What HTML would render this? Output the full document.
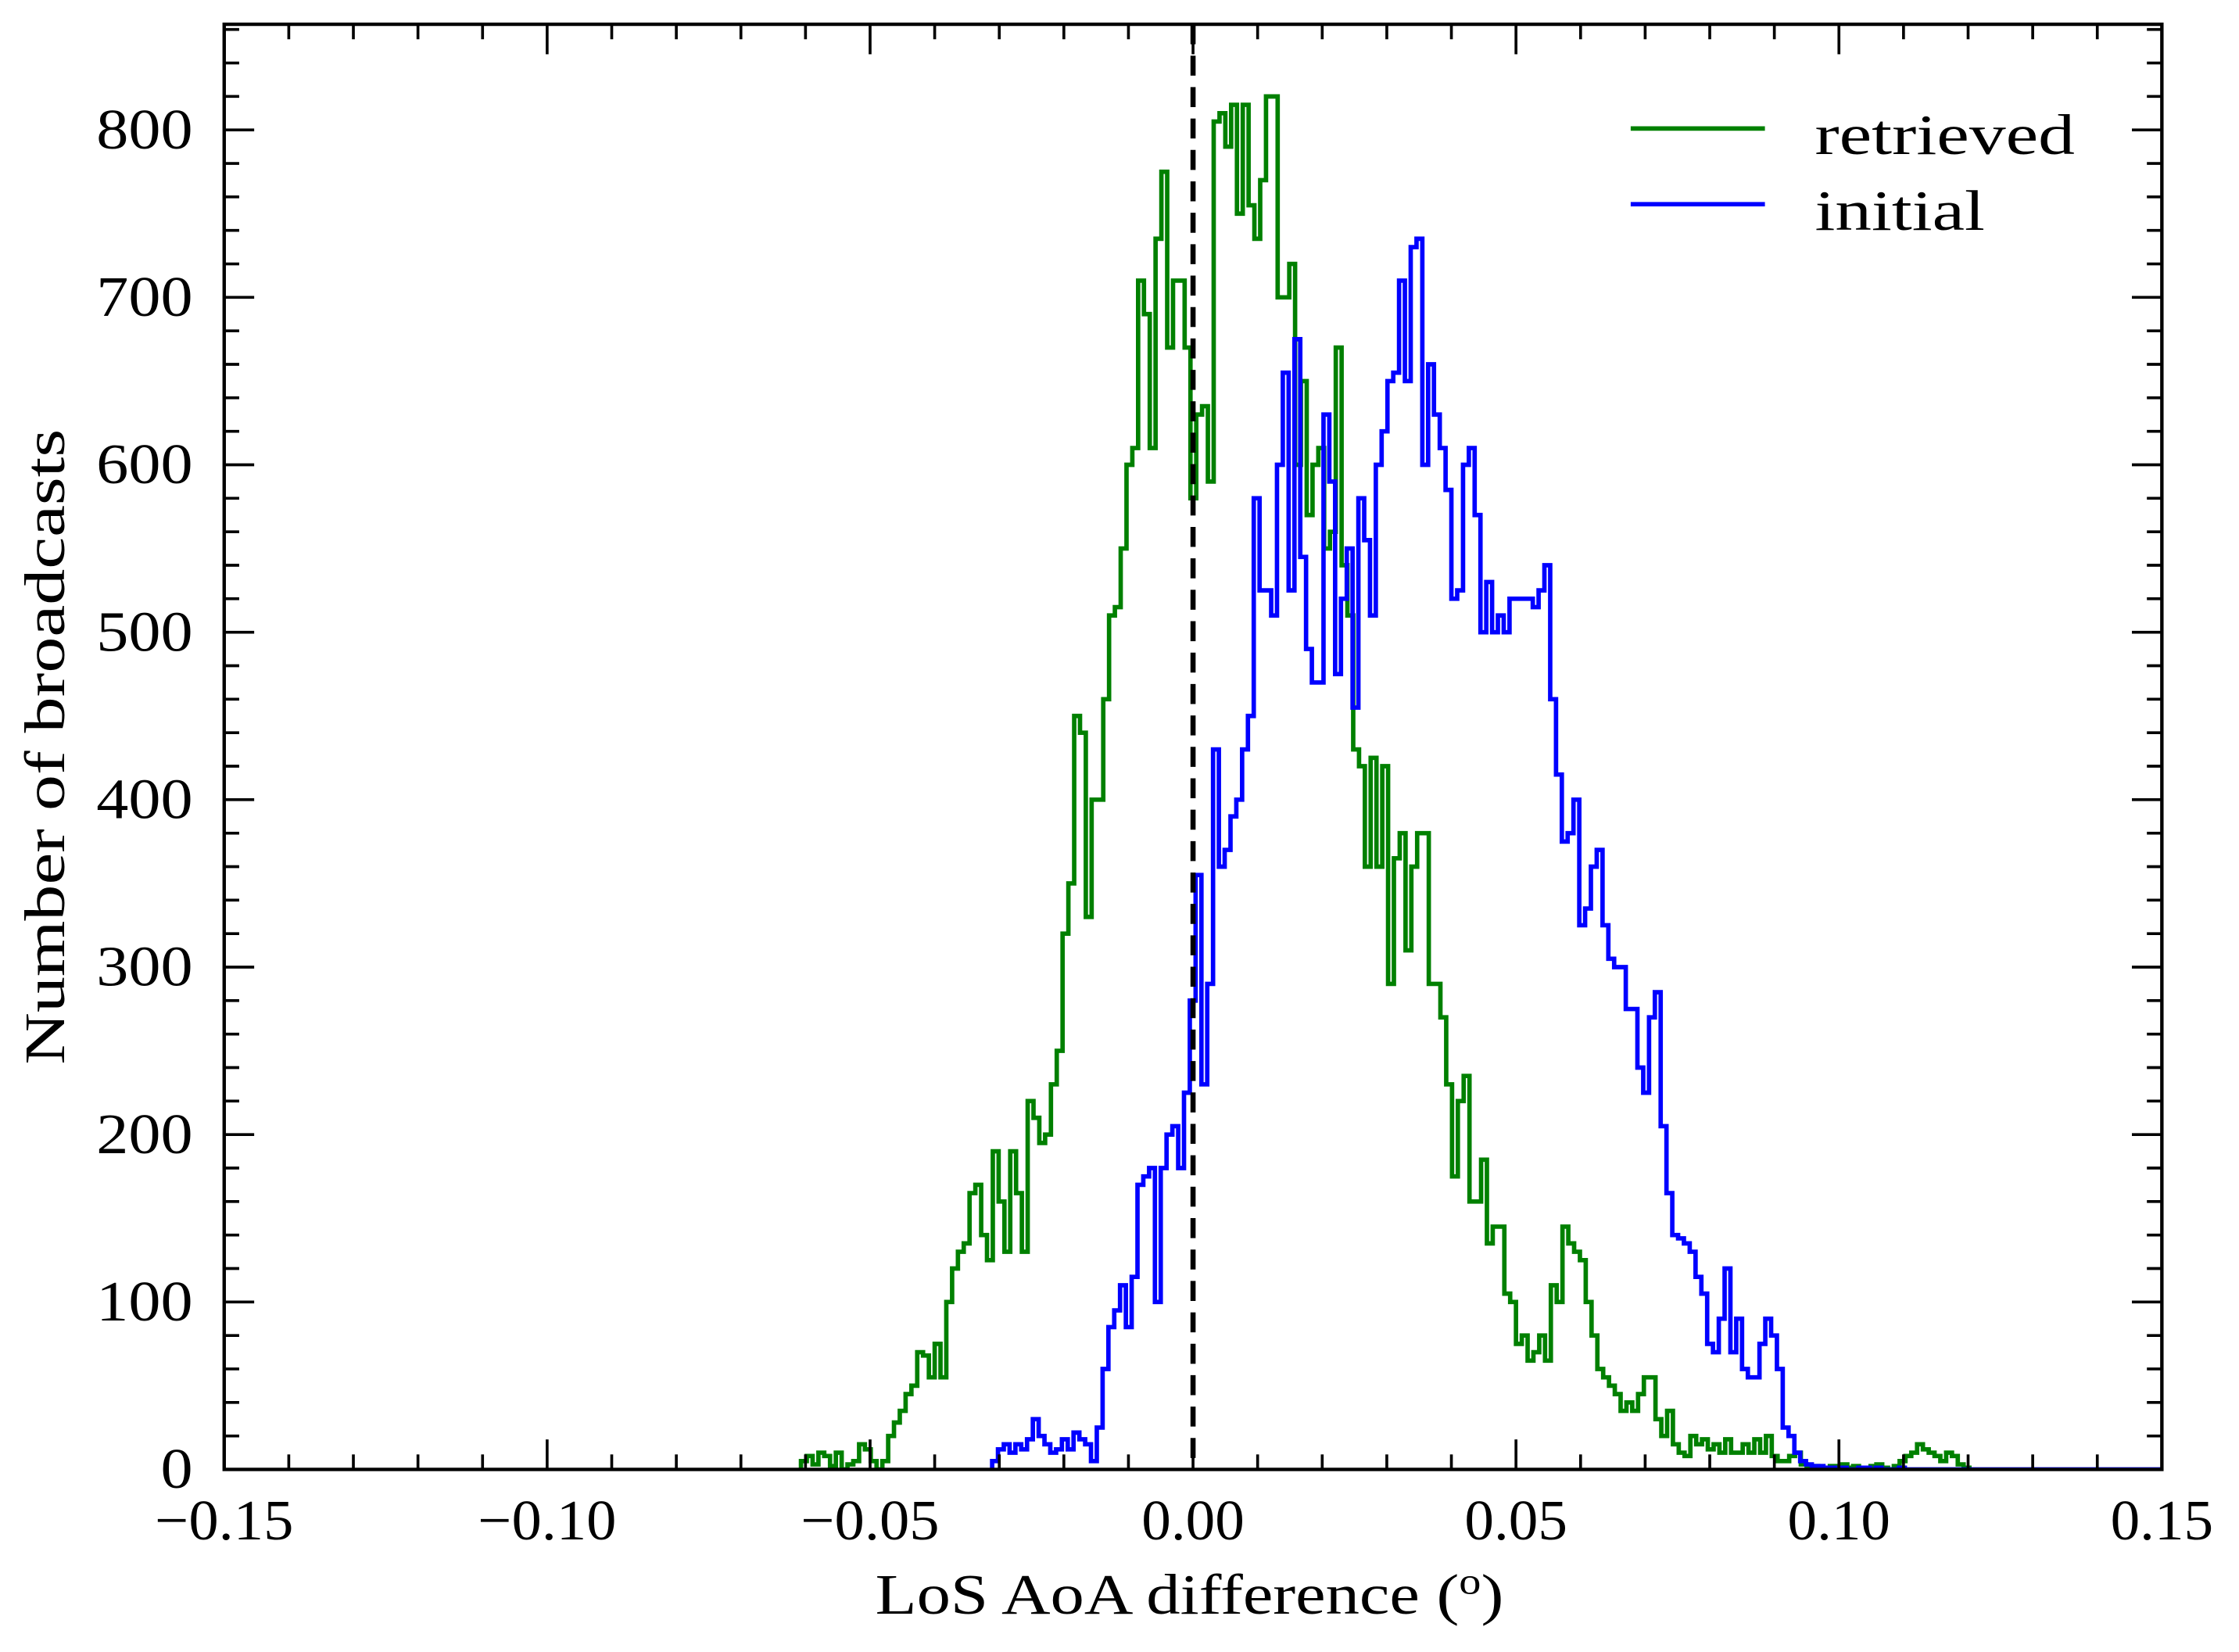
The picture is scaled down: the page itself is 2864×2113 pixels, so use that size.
<!DOCTYPE html>
<html><head><meta charset="utf-8"><style>
html,body{margin:0;padding:0;background:#fff;}
svg{display:block;}
text{font-family:"Liberation Serif",serif;fill:#000;}
</style></head><body>
<svg id="chart" width="2864" height="2113" viewBox="0 0 1568 1156.85" xmlns="http://www.w3.org/2000/svg">
<rect x="0" y="0" width="1568" height="1157" fill="#fff"/>
<g id="plot"></g>
</svg>
<script>
// ---- data ----
const binWidth = 0.0009;
const greenStart = -0.0607;
const greenCounts = [5,8,3,10,8,2,10,0,3,5,15,12,5,0,5,20,28,35,45,50,70,68,55,75,55,100,120,130,135,165,170,140,125,190,160,130,190,165,130,220,210,195,200,230,250,320,350,450,440,330,400,400,460,510,515,550,600,610,710,690,610,735,775,670,710,710,670,580,630,635,590,805,810,790,815,750,815,755,735,770,820,820,700,700,720,600,650,570,600,610,550,560,670,540,510,430,420,360,425,360,420,290,365,380,310,360,380,380,290,290,270,230,175,220,235,160,160,185,135,145,145,105,100,75,80,65,70,80,65,110,100,145,135,130,125,100,80,60,55,50,45,35,40,35,45,55,55,30,20,35,15,10,8,20,15,18,12,15,10,18,10,10,15,10,18,10,20,8,5,5,8,10,3,1,2,1,0,2,1,3,1,2,0,1,2,3,1,0,2,5,8,10,15,12,10,8,5,10,8,3,1];
const blueStart = -0.0311;
const blueCounts = [5,12,15,10,15,12,18,30,20,15,10,12,18,12,22,18,15,5,25,60,85,95,110,85,115,170,175,180,100,180,200,205,180,225,280,355,230,290,430,360,370,390,400,430,450,580,525,525,510,600,655,525,675,545,490,470,470,630,590,475,520,550,455,580,555,510,600,620,650,655,710,650,730,735,600,660,630,610,585,520,525,600,610,570,500,530,500,510,500,520,520,520,520,515,525,540,460,415,375,380,400,325,335,360,370,325,305,300,300,275,275,240,225,270,285,205,165,140,138,135,130,115,105,75,70,90,120,70,90,60,55,55,75,90,80,60,25,20,10,5,3,2,2,1,1,0,1,0,0,1,1,0,1,0,0,0,1,0,0,0,0,0,0,0,0,0,0,0,0,0,0,0,0,0,0,0,0,0,0,0,0,0,0,0,0,0,0,0,0,0,0,0,0,0,0,0,0,0,0,0,0,0,0,0,0,0,0,0,0,0,0,0,0,0,0,0,0,0,0,1];
const xTicks = [-0.15,-0.10,-0.05,0.00,0.05,0.10,0.15];
const xTickLabels = ["\u22120.15","\u22120.10","\u22120.05","0.00","0.05","0.10","0.15"];
const yTicks = [0,100,200,300,400,500,600,700,800];
const yTickLabels = ["0","100","200","300","400","500","600","700","800"];

// ---- axes ----
const L=157,R=1514,T=17,B=1029;
const xMin=-0.15,xMax=0.15,yMin=0,yMax=863.1;
const sx=v=>L+(v-xMin)/(xMax-xMin)*(R-L);
const sy=v=>B-(v-yMin)/(yMax-yMin)*(B-T);
const NS="http://www.w3.org/2000/svg";
const g=document.getElementById('plot');
function mk(tag,attrs){const e=document.createElementNS(NS,tag);for(const k in attrs)e.setAttribute(k,attrs[k]);g.appendChild(e);return e;}

function stepPath(start,counts){
  let d="M"+sx(start).toFixed(2)+","+sy(0).toFixed(2);
  counts.forEach((c,i)=>{
    const x0=sx(start+i*binWidth),x1=sx(start+(i+1)*binWidth),y=sy(c);
    d+=" L"+x0.toFixed(2)+","+y.toFixed(2)+" L"+x1.toFixed(2)+","+y.toFixed(2);
  });
  d+=" L"+sx(start+counts.length*binWidth).toFixed(2)+","+sy(0).toFixed(2);
  return d;
}

const clip=mk('clipPath',{id:'pc'});
const cr=document.createElementNS(NS,'rect');cr.setAttribute('x',L);cr.setAttribute('y',T);cr.setAttribute('width',R-L);cr.setAttribute('height',B-T);clip.appendChild(cr);

const gp=mk('path',{d:stepPath(greenStart,greenCounts),fill:'none',stroke:'#008000','stroke-width':3.1,'clip-path':'url(#pc)'});


const bp=mk('path',{d:stepPath(blueStart,blueCounts),fill:'none',stroke:'#0000ff','stroke-width':3.1,'clip-path':'url(#pc)'});



const zl=mk('line',{x1:sx(0),x2:sx(0),y1:T,y2:B,stroke:'#000','stroke-width':3.6,'stroke-dasharray':'14,8'});



// ticks
for(let i=-15;i<=15;i++){
  const v=i/100,x=sx(v),major=(i%5===0),len=major?21:10.5;
  const t1=mk('line',{x1:x,x2:x,y1:B,y2:B-len,stroke:'#000','stroke-width':2});
  
  
  const t2=mk('line',{x1:x,x2:x,y1:T,y2:T+len,stroke:'#000','stroke-width':2});
  
  
}
for(let v=0;v<=860;v+=20){
  const y=sy(v),major=(v%100===0),len=major?21:10.5;
  const t1=mk('line',{x1:L,x2:L+len,y1:y,y2:y,stroke:'#000','stroke-width':2});
  
  
  const t2=mk('line',{x1:R,x2:R-len,y1:y,y2:y,stroke:'#000','stroke-width':2});
  
  
}
xTicks.forEach((v,i)=>{
  const lab=xTickLabels[i];
  const t=mk('text',{x:sx(v),y:1078,'text-anchor':'middle','font-size':40,textLength:lab.length>4?97:72,lengthAdjust:'spacingAndGlyphs'});
  t.textContent=lab;
  
  
});
yTicks.forEach((v,i)=>{
  const lab=yTickLabels[i];
  const t=mk('text',{x:135,y:sy(v)+13,'text-anchor':'end','font-size':40,textLength:lab.length*22.5,lengthAdjust:'spacingAndGlyphs'});
  t.textContent=lab;
  
  
});
const fr=mk('rect',{x:L,y:T,width:R-L,height:B-T,fill:'none',stroke:'#000','stroke-width':2.4});



const xl=mk('text',{x:613,y:1130,'font-size':40,textLength:440,lengthAdjust:'spacingAndGlyphs'});
xl.innerHTML='LoS AoA difference (<tspan dy="-14" font-size="26">o</tspan><tspan dy="14">)</tspan>';


const yl=mk('text',{x:0,y:0,'text-anchor':'middle','font-size':40,transform:'translate(45,523) rotate(-90)',textLength:445,lengthAdjust:'spacingAndGlyphs'});
yl.textContent='Number of broadcasts';



// legend
const lg1=mk('line',{x1:1142,x2:1236,y1:90,y2:90,stroke:'#008000','stroke-width':3.1});


const lt1=mk('text',{x:1271,y:108,'font-size':40,textLength:182,lengthAdjust:'spacingAndGlyphs'});
lt1.textContent='retrieved';


const lg2=mk('line',{x1:1142,x2:1236,y1:143,y2:143,stroke:'#0000ff','stroke-width':3.1});


const lt2=mk('text',{x:1271,y:161,'font-size':40,textLength:119,lengthAdjust:'spacingAndGlyphs'});
lt2.textContent='initial';


</script>
</body></html>
